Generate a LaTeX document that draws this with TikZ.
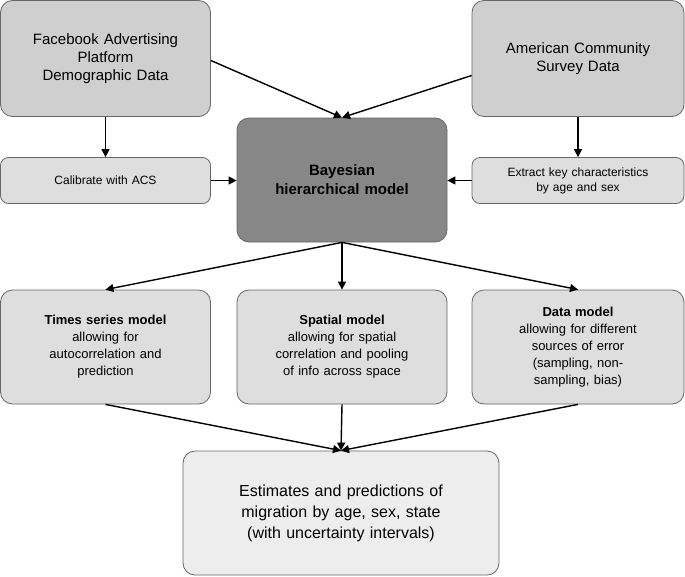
\documentclass[tikz,border=0pt]{standalone}
\usepackage{fontspec}
\setmainfont{Liberation Sans}
\usetikzlibrary{arrows.meta}
\begin{document}
\begin{tikzpicture}[x=1pt,y=-1pt,
  box/.style={draw=black!60,line width=0.8pt,rounded corners=12pt,align=center,inner sep=2pt,text width=#1},
  arr/.style={-{Triangle[length=8pt,width=8pt]},line width=1.4pt}]
\useasboundingbox (0,0) rectangle (685,576);
\definecolor{cA}{gray}{0.81}\definecolor{cB}{gray}{0.87}\definecolor{cC}{gray}{0.53}\definecolor{cD}{gray}{0.93}
\node[box=200pt,fill=cA,minimum width=210pt,minimum height=116pt,font=\fontsize{15}{18}\selectfont] (fb) at (105.5,58.5) {Facebook Advertising\\Platform\\Demographic Data};
\node[box=200pt,fill=cA,minimum width=212pt,minimum height=116pt,font=\fontsize{15}{18}\selectfont] (acs) at (578,58.5) {American Community\\Survey Data};
\node[box=200pt,fill=cC,minimum width=210pt,minimum height=124pt,font=\fontsize{15}{19}\selectfont\bfseries] (bay) at (342,180) {Bayesian\\hierarchical model};
\node[box=200pt,fill=cB,minimum width=210pt,minimum height=46pt,rounded corners=8pt,font=\fontsize{12}{15}\selectfont] (cal) at (105.5,180.5) {Calibrate with ACS};
\node[box=200pt,fill=cB,minimum width=212pt,minimum height=46pt,rounded corners=8pt,font=\fontsize{12}{15}\selectfont] (ext) at (578,180.5) {Extract key characteristics\\by age and sex};
\node[box=200pt,fill=cB,minimum width=210pt,minimum height=114pt,font=\fontsize{13}{17}\selectfont] (ts) at (105.5,347) {\textbf{Times series model}\\allowing for\\autocorrelation and\\prediction};
\node[box=200pt,fill=cB,minimum width=210pt,minimum height=114pt,font=\fontsize{13}{17}\selectfont] (sp) at (342,347) {\textbf{Spatial model}\\allowing for spatial\\correlation and pooling\\of info across space};
\node[box=200pt,fill=cB,minimum width=212pt,minimum height=114pt,font=\fontsize{13}{17}\selectfont] (dm) at (578,347) {\textbf{Data model}\\allowing for different\\sources of error\\(sampling, non-\\sampling, bias)};
\node[box=300pt,fill=cD,minimum width=316pt,minimum height=124pt,font=\fontsize{16}{21}\selectfont] (est) at (341,513) {Estimates and predictions of\\migration by age, sex, state\\(with uncertainty intervals)};
\draw[arr] (fb.east) ++(0,2) -- (bay.north);
\draw[arr] (acs.west) ++(0,17) -- (bay.north);
\draw[arr] (fb.south) -- (cal.north);
\draw[arr] (acs.south) -- (ext.north);
\draw[arr] (cal.east) -- (bay.west|-cal.east);
\draw[arr] (ext.west) -- (bay.east|-ext.west);
\draw[arr] (bay.south) -- (ts.north);
\draw[arr] (bay.south) -- (sp.north);
\draw[arr] (bay.south) -- (dm.north);
\draw[arr] (ts.south) -- (est.north);
\draw[arr] (sp.south) -- (est.north);
\draw[arr] (dm.south) -- (est.north);
\end{tikzpicture}
\end{document}
